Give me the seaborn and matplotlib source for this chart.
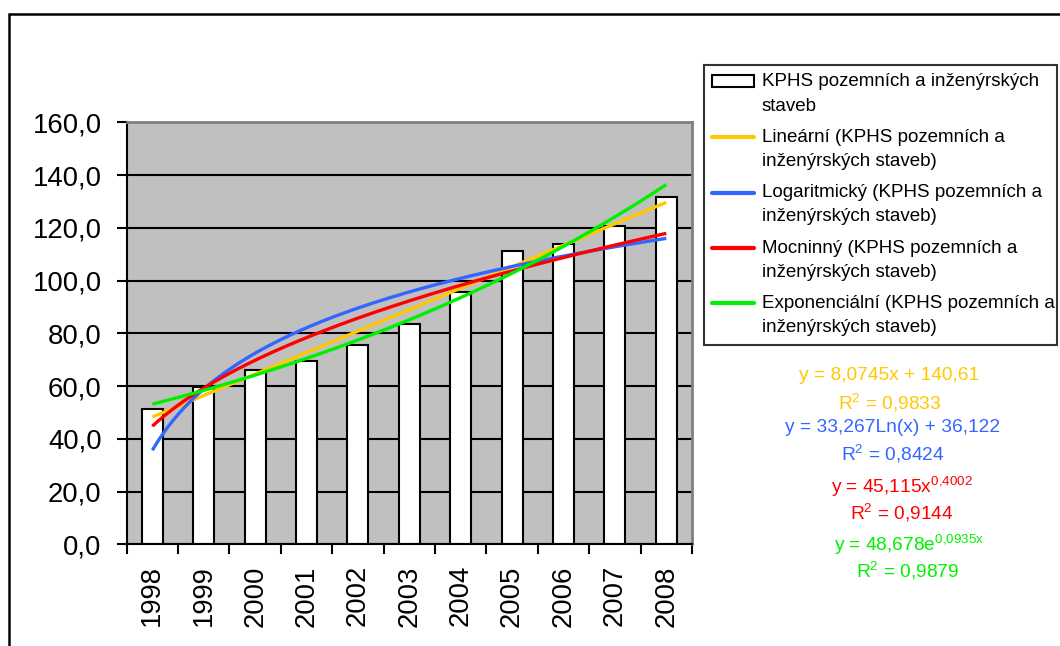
import numpy as np
import pandas as pd
import matplotlib
matplotlib.use("Agg")
import matplotlib.pyplot as plt
import seaborn as sns
from matplotlib.lines import Line2D
from matplotlib.patches import Patch, Rectangle
from matplotlib.legend_handler import HandlerLine2D, HandlerPatch

# ---- data ----
years = ["1998", "1999", "2000", "2001", "2002", "2003", "2004", "2005", "2006", "2007", "2008"]
values = [51.2, 59.5, 66.1, 69.4, 75.4, 83.5, 95.8, 111.3, 114.0, 120.8, 131.6]
series_label = "KPHS pozemních a inženýrských\nstaveb"
trend_labels = [
    "Lineární (KPHS pozemních a\ninženýrských staveb)",
    "Logaritmický (KPHS pozemních a\ninženýrských staveb)",
    "Mocninný (KPHS pozemních a\ninženýrských staveb)",
    "Exponenciální (KPHS pozemních a\ninženýrských staveb)",
]
eq_texts = [
    ("y = 8,0745x + 140,61", "R$^{2}$ = 0,9833"),
    ("y = 33,267Ln(x) + 36,122", "R$^{2}$ = 0,8424"),
    ("y = 45,115x$^{0{,}4002}$", "R$^{2}$ = 0,9144"),
    ("y = 48,678e$^{0{,}0935x}$", "R$^{2}$ = 0,9879"),
]
yticks = [0, 20, 40, 60, 80, 100, 120, 140, 160]

colors = ["#FFC800", "#3366FF", "#FF0000", "#00F000"]

sns.set_theme(style="white")
plt.rcParams["font.family"] = ["Liberation Sans", "DejaVu Sans"]
plt.rcParams["mathtext.default"] = "regular"
plt.rcParams["text.color"] = "black"
plt.rcParams["xtick.color"] = "black"
plt.rcParams["ytick.color"] = "black"

fig = plt.figure(figsize=(10.6, 6.46), dpi=100)
ax = fig.add_axes([0.1195, 0.1574, 0.5333, 0.6533])
ax.set_facecolor("#C0C0C0")

df = pd.DataFrame({"year": years, "value": values})
sns.barplot(data=df, x="year", y="value", color="white", saturation=1,
            edgecolor="black", linewidth=1.5, width=0.41, ax=ax, zorder=2)

# ---- trend lines fitted to the bar data ----
xi = np.arange(1, len(values) + 1)
vals = np.array(values)
t = np.linspace(1, len(values), 200)
b1, a1 = np.polyfit(xi, vals, 1)
b2, a2 = np.polyfit(np.log(xi), vals, 1)
b3, a3 = np.polyfit(np.log(xi), np.log(vals), 1)
b4, a4 = np.polyfit(xi, np.log(vals), 1)
curves = [
    b1 * t + a1,
    b2 * np.log(t) + a2,
    np.exp(a3) * t ** b3,
    np.exp(a4) * np.exp(b4 * t),
]
for c, yv in zip(colors, curves):
    ax.plot(t - 1, yv, color=c, lw=2.4, zorder=3, solid_capstyle="butt")

# ---- axes styling ----
ax.set_ylim(0, 160)
ax.set_xlim(-0.5, len(values) - 0.5)
ax.set_yticks(yticks)
ax.set_yticklabels([f"{v:.1f}".replace(".", ",") for v in yticks], fontsize=19.8)
ax.yaxis.grid(True, color="black", lw=1.5)
ax.set_axisbelow(True)
ax.set_xlabel("")
ax.set_ylabel("")

ax.set_xticks(np.arange(-0.5, len(values), 1.0))
ax.set_xticklabels([])
ax.set_xticks(np.arange(len(values)), minor=True)
ax.set_xticklabels(years, minor=True, rotation=90, fontsize=19.8)
ax.tick_params(axis="x", which="major", length=7, width=1.5, color="black", direction="out", bottom=True)
ax.tick_params(axis="x", which="minor", length=0, pad=15)
ax.tick_params(axis="y", length=7, width=1.5, color="black", direction="out", left=True, pad=11)

for side in ["left", "bottom"]:
    ax.spines[side].set_color("black")
    ax.spines[side].set_linewidth(1.5)
for side in ["top", "right"]:
    ax.spines[side].set_color("#808080")
    ax.spines[side].set_linewidth(2)


# ---- legend (handles aligned with the first text line) ----
class UpLine(HandlerLine2D):
    def __init__(self, dy, **kw):
        super().__init__(**kw)
        self.dy = dy

    def create_artists(self, legend, orig_handle, xdescent, ydescent, width, height, fontsize, trans):
        arts = super().create_artists(legend, orig_handle, xdescent, ydescent, width, height, fontsize, trans)
        for a in arts:
            a.set_ydata(np.asarray(a.get_ydata()) + self.dy)
        return arts


class UpPatch(HandlerPatch):
    def __init__(self, dy, **kw):
        super().__init__(**kw)
        self.dy = dy

    def create_artists(self, legend, orig_handle, xdescent, ydescent, width, height, fontsize, trans):
        return super().create_artists(legend, orig_handle, xdescent, ydescent - self.dy, width, height, fontsize, trans)


DY = 9.0
handles = [Patch(facecolor="white", edgecolor="black", linewidth=1.5)]
handles += [Line2D([], [], color=c, lw=3) for c in colors]
labels = [series_label] + trend_labels
hmap = {handles[0]: UpPatch(DY)}
for h in handles[1:]:
    hmap[h] = UpLine(DY)
leg = fig.legend(handles, labels, loc="upper left",
                 bbox_to_anchor=(0.664, 0.4737, 0.333, 0.4257), mode="expand",
                 fontsize=13.5, frameon=True, fancybox=False, borderaxespad=0,
                 handlelength=2.25, handletextpad=0.4, labelspacing=0.76,
                 borderpad=0.45, handleheight=0.6, handler_map=hmap)
leg.get_frame().set_edgecolor("black")
leg.get_frame().set_linewidth(1.5)
for txt in leg.get_texts():
    txt.set_linespacing(1.55)

# ---- equation labels ----
eq_pos = [(889, 376, 890, 403), (893, 428, 893, 454), (902, 487, 902, 513), (909, 545, 908, 571)]
for (e1, e2), c, (x1, y1, x2, y2) in zip(eq_texts, colors, eq_pos):
    fig.text(x1 / 1060, 1 - y1 / 646, e1, color=c, ha="center", va="center", fontsize=13.8)
    fig.text(x2 / 1060, 1 - y2 / 646, e2, color=c, ha="center", va="center", fontsize=13.8)

# ---- outer chart frame ----
fig.patches.append(Rectangle((9 / 1060, -0.1), 1.2, 1 - 14 / 646 + 0.1,
                             transform=fig.transFigure, fill=False,
                             edgecolor="black", linewidth=1.8))

fig.savefig("out.png", dpi=100, facecolor="white")
